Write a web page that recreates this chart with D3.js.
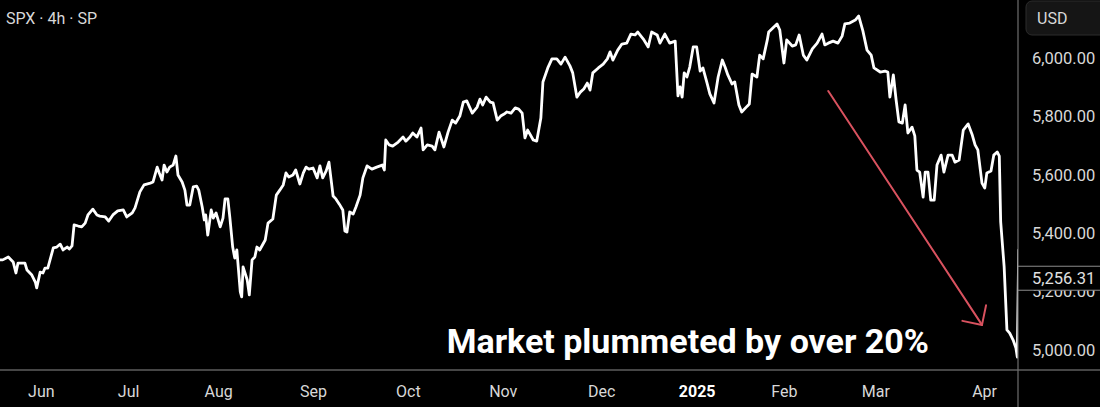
<!DOCTYPE html>
<html><head><meta charset="utf-8">
<script src="https://cdn.jsdelivr.net/npm/d3@7"></script>
<style>html,body{margin:0;background:#000;}svg{display:block;font-family:Roboto,"Noto Sans",sans-serif;}</style>
</head><body><svg id="c" width="1100" height="407"></svg>
<script>
// ---- data ----
const title = "SPX · 4h · SP";
const currency = "USD";
// trading hours elapsed since first sample, and 4h closes
const hours = [
0,4,12,19,23,26,36,39,46,51,53,58,62,65,69,77,82,87,91,97,100,104,107,113,118,123,127,134,140,144,152,157,163,170,178,183,191,195,202,208,217,221,227,230,234,237,241,245,250,254,257,263,267,270,274,279,284,287,292,295,297,300,305,308,312,318,322,325,329,332,336,339,342,347,349,351,357,360,364,368,371,375,
383,387,394,399,404,409,413,417,423,427,433,438,442,446,452,458,462,466,471,475,481,485,490,495,498,501,505,510,514,520,524,530,537,544,552,555,557,562,567,575,582,586,592,596,602,608,611,617,624,628,634,641,647,653,658,664,669,674,682,689,693,697,702,708,712,718,723,728,732,738,744,749,
754,758,762,770,775,781,784,791,797,804,810,816,823,827,833,838,843,848,852,856,864,871,877,881,885,892,898,905,911,917,921,929,936,941,949,953,960,967,975,979,982,985,988,992,996,1001,1006,1011,1015,1021,1025,1031,1037,1043,1047,1051,1057,1061,1067,1071,1079,1082,1086,1093,1097,1102,1108,1110,
1116,1122,1126,1132,1136,1144,1149,1154,1160,1165,1173,1180,1187,1191,1196,1203,1210,1216,1220,1227,1235,1240,1246,1252,1258,1262,1271,1278,1282,1285,1290,1294,1298,1303,1307,1311,1317,1321,1324,1328,1333,1336,1340,1344,1349,1353,1359,1363,1369,1375,1379,1385,1391,1398,1404,1408,1412,1418,1422,1425,1431,1435,1440,1443,1445,1450,1454,1458,1463,1467,1469,1471];
const closes = [
5309,5309,5319,5302,5264,5298,5298,5274,5257,5233,5213,5267,5264,5281,5281,5350,5353,5363,5343,5353,5346,5357,5429,5425,5422,5435,5463,5483,5463,5459,5456,5442,5463,5477,5480,5456,5470,5487,5542,5566,5572,5576,5627,5607,5583,5634,5610,5627,5634,5665,5600,5576,5548,5497,5497,5559,5562,5548,5490,5446,5463,5394,5480,5452,5470,5422,5452,5518,5518,5452,5353,5315,5343,5199,5182,5285,5240,5189,5309,5319,5353,5343,
5377,5435,5449,5531,5548,5566,5607,5593,5600,5617,5569,5607,5627,5620,5624,5590,5631,5590,5614,5644,5528,5518,5500,5480,5408,5404,5473,5466,5490,5531,5590,5631,5620,5627,5634,5617,5720,5703,5699,5713,5730,5716,5730,5744,5730,5761,5686,5703,5699,5686,5747,5696,5747,5788,5778,5802,5850,5854,5812,5833,5860,5840,5867,5850,5847,5788,5802,5809,5816,5812,5830,5826,
5812,5727,5754,5720,5716,5795,5919,5967,5998,5998,5980,6004,5974,5950,5867,5884,5895,5915,5891,5950,5967,5980,5998,6022,5994,6028,6049,6052,6083,6080,6090,6066,6039,6090,6080,6052,6083,6052,6059,5871,5902,5867,5950,5936,5970,6039,6039,5956,5967,5915,5878,5847,5936,5994,5970,5943,5912,5919,5840,5816,5836,5843,5946,5936,6011,5998,6063,6090,
6104,6118,6097,5984,6063,6042,6046,6080,6011,5994,6032,6052,6083,6046,6052,6059,6052,6076,6118,6121,6131,6145,6094,6028,6011,5967,5953,5956,5953,5867,5943,5857,5782,5778,5840,5744,5764,5734,5617,5610,5524,5610,5610,5514,5514,5634,5668,5610,5668,5668,5644,5651,5754,5775,5737,5703,5686,5572,5555,5607,5614,5668,5679,5665,5439,5285,5069,5058,5034,5007,4976,5343];
const monthLabels = ["Jun","Jul","Aug","Sep","Oct","Nov","Dec","2025","Feb","Mar","Apr"];
const monthHours  = [59,185,315,452,589,726,868,1006,1132,1264,1421];
const priceTicks = [5000,5200,5400,5600,5800,6000];
const lastPrice = 5256.31;
const annotationText = "Market plummeted by over 20%";
const annotationAt = [645, 4990];
const arrowFrom = [1196, 5888];
const arrowTo = [1418, 5086];

// ---- layout ----
const W = 1100, H = 407, plotR = 1018, axisY = 370;
const svg = d3.select("#c");
svg.append("rect").attr("width",W).attr("height",H).attr("fill","#000");

const x = d3.scaleLinear().domain([0,1470]).range([0,plotR]);
const y = d3.scaleLinear().domain([5000,6000]).range([350,58.3]);

svg.append("defs").append("clipPath").attr("id","clip")
  .append("rect").attr("x",0).attr("y",0).attr("width",plotR).attr("height",axisY);

const data = hours.map((h,i)=>[h,closes[i]]);
const line = d3.line().x(d=>x(d[0])).y(d=>y(d[1]));
svg.append("path").datum(data).attr("clip-path","url(#clip)")
  .attr("d",line).attr("fill","none").attr("stroke","#fff")
  .attr("stroke-width",2.8).attr("stroke-linejoin","round").attr("stroke-linecap","round");

// annotation arrow
const ax0 = x(arrowFrom[0]), ay0 = y(arrowFrom[1]), ax1 = x(arrowTo[0]), ay1 = y(arrowTo[1]);
const ang = Math.atan2(ay1-ay0, ax1-ax0);
const red = "#d9525f";
const g = svg.append("g").attr("stroke",red).attr("stroke-width",2).attr("fill","none").attr("stroke-linecap","round");
g.append("line").attr("x1",ax0).attr("y1",ay0).attr("x2",ax1).attr("y2",ay1);
[Math.PI*0.75, -Math.PI*0.75].forEach(a=>{
  g.append("line").attr("x1",ax1).attr("y1",ay1)
   .attr("x2",ax1+20*Math.cos(ang+a)).attr("y2",ay1+20*Math.sin(ang+a));
});
svg.append("text").attr("x",x(annotationAt[0])).attr("y",y(annotationAt[1]))
  .attr("fill","#fff").attr("font-size",34).attr("font-weight",700).text(annotationText);

// title
svg.append("text").attr("x",6).attr("y",18).attr("dy","0.35em")
  .attr("fill","#d8d8d8").attr("font-size",16).text(title);

// bottom axis
svg.append("line").attr("x1",0).attr("x2",W).attr("y1",axisY).attr("y2",axisY)
  .attr("stroke","#8c8c8c").attr("stroke-width",1.2);
const xa = svg.append("g").attr("transform",`translate(0,${axisY})`)
  .call(d3.axisBottom(x).tickValues(monthHours).tickFormat((d,i)=>monthLabels[i]).tickSize(0).tickPadding(16));
xa.select(".domain").remove();
xa.selectAll("text").attr("font-size",16).attr("font-family","Roboto")
  .attr("font-weight",(d,i)=>monthLabels[i]==="2025"?700:400)
  .attr("fill",(d,i)=>monthLabels[i]==="2025"?"#fff":"#d8d8d8");

// right axis
svg.append("line").attr("x1",plotR).attr("x2",plotR).attr("y1",0).attr("y2",H)
  .attr("stroke","#6e6e6e").attr("stroke-width",1.2);
const ya = svg.append("g").attr("transform",`translate(${plotR},0)`)
  .call(d3.axisRight(y).tickValues(priceTicks).tickFormat(d3.format(",.2f")).tickSize(0).tickPadding(14));
ya.select(".domain").remove();
ya.selectAll("text").attr("fill","#d8d8d8").attr("font-size",16.5).attr("font-family","Roboto");

// last price label (covers the upper half of the 5,200.00 tick, as in the source)
const ly = y(lastPrice) + 3;
svg.append("rect").attr("x",plotR+1).attr("y",ly-12).attr("width",W-plotR).attr("height",24).attr("fill","#000");
svg.append("line").attr("x1",plotR).attr("x2",W).attr("y1",ly-12).attr("y2",ly-12).attr("stroke","#8c8c8c");
svg.append("line").attr("x1",plotR).attr("x2",W).attr("y1",ly+12).attr("y2",ly+12).attr("stroke","#8c8c8c");
svg.append("text").attr("x",plotR+14).attr("y",ly).attr("dy","0.35em")
  .attr("fill","#e0e0e0").attr("font-size",16.5).text(d3.format(",.2f")(lastPrice));

// currency box
svg.append("rect").attr("x",1026).attr("y",1).attr("width",90).attr("height",34).attr("rx",6)
  .attr("fill","#151515").attr("stroke","#2c2c2c");
svg.append("text").attr("x",1037).attr("y",18).attr("dy","0.35em")
  .attr("fill","#d8d8d8").attr("font-size",16).text(currency);
</script></body></html>
